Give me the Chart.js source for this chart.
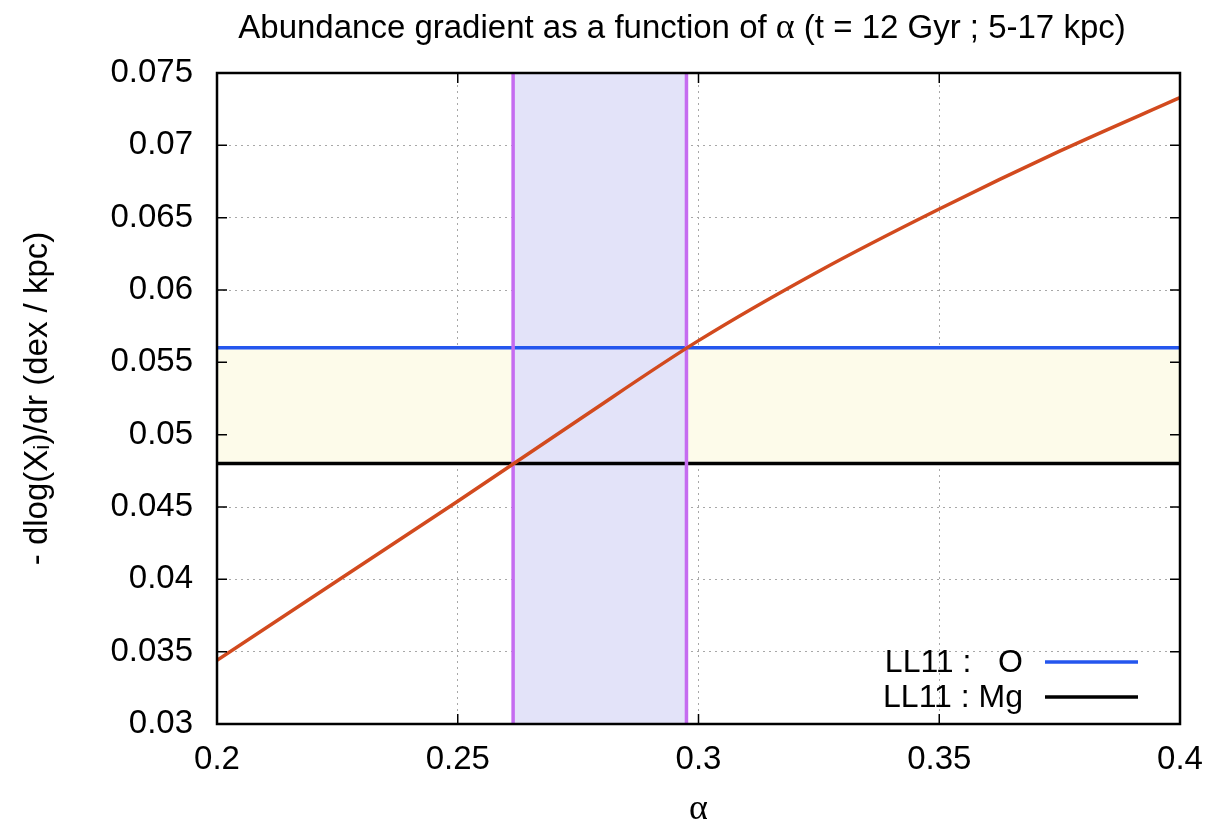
<!DOCTYPE html>
<html lang="en">
<head>
    <meta charset="UTF-8">
    <title>Abundance gradient vs alpha</title>
    <script src="https://cdn.jsdelivr.net/npm/chart.js"></script>
    <style>
        body {
            margin: 0;
            background: #fff;
        }
        .wrap {
            width: 1209px;
            height: 824px;
        }
    </style>
</head>
<body>
    <div class="wrap"><canvas id="gradChart"></canvas></div>

    <script>
        // Model gradient at t = 12 Gyr, sampled along alpha
        const alphaVals = [0.2, 0.225, 0.25, 0.275, 0.3, 0.325, 0.35, 0.375, 0.4];
        const gradModel = [0.0344, 0.0399, 0.0454, 0.0510, 0.0565, 0.0613, 0.0656, 0.0696, 0.0733];

        // Observed gradients (LL11)
        const gradO = 0.056;
        const gradMg = 0.048;

        // Alpha values where the model meets the two observations
        const alphaLow = 0.2615;
        const alphaHigh = 0.2975;

        const xMin = 0.2, xMax = 0.4, xStep = 0.05;
        const yMin = 0.03, yMax = 0.075, yStep = 0.005;

        const FONT = "'Liberation Sans', Arial, sans-serif";
        const SERIF = "'Liberation Serif', serif";

        // Title pieces: the greek letter is set in a serif face
        const titleParts = [
            ['Abundance gradient as a function of ', FONT],
            ['α', SERIF],
            [' (t = 12 Gyr ; 5-17 kpc)', FONT]
        ];

        const mixedTitle = {
            id: 'mixedTitle',
            afterDraw(chart) {
                const { ctx } = chart;
                ctx.save();
                ctx.fillStyle = '#000';
                ctx.textBaseline = 'alphabetic';
                ctx.textAlign = 'left';
                const widths = titleParts.map(([s, f]) => {
                    ctx.font = (f === SERIF ? '36px ' : '33px ') + f;
                    return ctx.measureText(s).width;
                });
                const total = widths.reduce((a, b) => a + b, 0);
                let x = 682 - total / 2;
                titleParts.forEach(([s, f], i) => {
                    ctx.font = (f === SERIF ? '36px ' : '33px ') + f;
                    ctx.fillText(s, x, 38);
                    x += widths[i];
                });
                ctx.restore();
            }
        };

        // Box around the plot plus gnuplot-style inward ticks on all sides
        const frameTicks = {
            id: 'frameTicks',
            afterDatasetsDraw(chart) {
                const { ctx, chartArea: a, scales } = chart;
                ctx.save();
                ctx.strokeStyle = '#000';
                ctx.lineWidth = 1.5;
                const len = 10;
                ctx.beginPath();
                scales.x.ticks.forEach(t => {
                    const px = scales.x.getPixelForValue(t.value);
                    ctx.moveTo(px, a.bottom); ctx.lineTo(px, a.bottom - len);
                    ctx.moveTo(px, a.top); ctx.lineTo(px, a.top + len);
                });
                scales.y.ticks.forEach(t => {
                    const py = scales.y.getPixelForValue(t.value);
                    ctx.moveTo(a.left, py); ctx.lineTo(a.left + len, py);
                    ctx.moveTo(a.right, py); ctx.lineTo(a.right - len, py);
                });
                ctx.stroke();
                ctx.lineWidth = 2.5;
                ctx.strokeRect(a.left, a.top, a.right - a.left, a.bottom - a.top);
                ctx.restore();
            }
        };

        // Key in the lower right corner of the plot
        const cornerKey = {
            id: 'cornerKey',
            afterDraw(chart) {
                const { ctx, chartArea: a } = chart;
                const rows = [chart.data.datasets[1], chart.data.datasets[2]];
                ctx.save();
                ctx.font = '32px ' + FONT;
                ctx.textAlign = 'right';
                ctx.textBaseline = 'middle';
                rows.forEach((ds, i) => {
                    const y = a.bottom - 62 + i * 35;
                    ctx.fillStyle = '#000';
                    ctx.fillText(ds.label, a.right - 157, y + 1);
                    ctx.strokeStyle = ds.borderColor;
                    ctx.lineWidth = 3.5;
                    ctx.beginPath();
                    ctx.moveTo(a.right - 135, y);
                    ctx.lineTo(a.right - 42, y);
                    ctx.stroke();
                });
                ctx.restore();
            }
        };

        const modelPoints = alphaVals.map((x, i) => ({ x: x, y: gradModel[i] }));

        new Chart(document.getElementById('gradChart'), {
            type: 'line',
            data: {
                datasets: [
                    {
                        label: 'model',
                        data: modelPoints,
                        borderColor: '#d24a1e',
                        borderWidth: 3.5,
                        pointRadius: 0,
                        cubicInterpolationMode: 'monotone',
                        fill: false,
                        order: 0
                    },
                    {
                        label: 'LL11 :   O',
                        data: [{ x: xMin, y: gradO }, { x: xMax, y: gradO }],
                        borderColor: '#2456ee',
                        borderWidth: 3.5,
                        pointRadius: 0,
                        fill: '+1',
                        backgroundColor: '#fdfbea',
                        order: 5
                    },
                    {
                        label: 'LL11 : Mg',
                        data: [{ x: xMin, y: gradMg }, { x: xMax, y: gradMg }],
                        borderColor: '#000000',
                        borderWidth: 3.5,
                        pointRadius: 0,
                        fill: false,
                        order: 4
                    },
                    {
                        label: 'alpha range',
                        data: [{ x: alphaLow, y: yMax }, { x: alphaHigh, y: yMax }],
                        borderWidth: 0,
                        pointRadius: 0,
                        fill: 'start',
                        backgroundColor: '#e3e3f9',
                        order: 3
                    },
                    {
                        label: 'alpha low',
                        data: [{ x: alphaLow, y: yMin }, { x: alphaLow, y: yMax }],
                        borderColor: '#c56cf0',
                        borderWidth: 3.5,
                        pointRadius: 0,
                        fill: false,
                        order: 3
                    },
                    {
                        label: 'alpha high',
                        data: [{ x: alphaHigh, y: yMin }, { x: alphaHigh, y: yMax }],
                        borderColor: '#c56cf0',
                        borderWidth: 3.5,
                        pointRadius: 0,
                        fill: false,
                        order: 3
                    }
                ]
            },
            options: {
                responsive: true,
                maintainAspectRatio: false,
                animation: false,
                layout: { padding: { right: 29, left: 0, top: 73, bottom: 0 } },
                plugins: {
                    legend: { display: false },
                    tooltip: { enabled: false },
                    title: { display: false },
                    filler: { drawTime: 'beforeDatasetsDraw' }
                },
                scales: {
                    x: {
                        type: 'linear',
                        min: xMin,
                        max: xMax,
                        ticks: {
                            stepSize: xStep,
                            color: '#000',
                            font: { family: FONT, size: 33 },
                            padding: 16,
                            callback: v => String(+v.toFixed(3))
                        },
                        grid: {
                            color: '#a8a8a8',
                            lineWidth: 1,
                            tickLength: 0,
                            drawTicks: false
                        },
                        border: { display: false, dash: [2, 4] },
                        title: {
                            display: true,
                            text: 'α',
                            color: '#000',
                            font: { family: SERIF, size: 36 },
                            padding: { top: 13, bottom: -7 }
                        },
                        afterFit(scale) {
                            scale.height = 100;
                            scale.paddingLeft = 0;
                            scale.paddingRight = 0;
                        }
                    },
                    y: {
                        type: 'linear',
                        min: yMin,
                        max: yMax,
                        ticks: {
                            stepSize: yStep,
                            color: '#000',
                            font: { family: FONT, size: 33 },
                            padding: 24,
                            callback: v => String(+v.toFixed(3))
                        },
                        grid: {
                            color: '#a8a8a8',
                            lineWidth: 1,
                            tickLength: 0,
                            drawTicks: false
                        },
                        border: { display: false, dash: [2, 4] },
                        title: {
                            display: true,
                            text: '- dlog(Xᵢ)/dr (dex / kpc)',
                            color: '#000',
                            font: { family: FONT, size: 33 },
                            padding: { top: 18, bottom: 10 }
                        },
                        afterFit(scale) {
                            scale.width = 217;
                            scale.paddingTop = 0;
                            scale.paddingBottom = 0;
                        }
                    }
                }
            },
            plugins: [frameTicks, cornerKey, mixedTitle]
        });
    </script>
</body>
</html>
